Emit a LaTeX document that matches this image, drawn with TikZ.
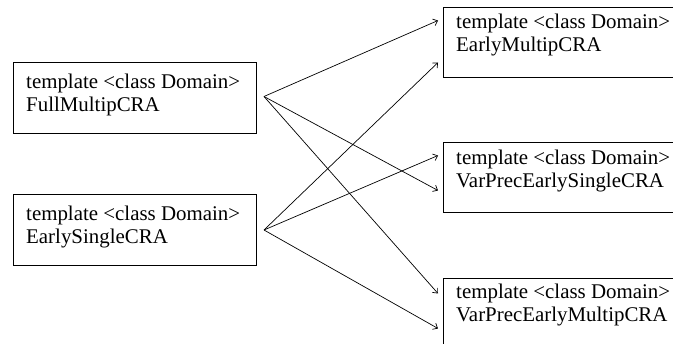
\documentclass[tikz,border=0pt]{standalone}
\usepackage{fontspec}
\setmainfont{Liberation Serif}
\usetikzlibrary{arrows.meta}
\tikzset{
  x=1pt, y=-1pt,
  classbox/.style={draw=black, line width=1pt, inner sep=0pt, anchor=north west},
  leftbox/.style={classbox, minimum width=243pt, minimum height=71pt},
  rightbox/.style={classbox, minimum width=250pt, minimum height=70pt},
  boxtext/.style={anchor=north west, inner sep=0pt, align=left,
    font=\fontsize{20.9}{23}\selectfont},
  derive/.style={draw=black, line width=0.7pt,
    -{Straight Barb[length=4pt,width=7pt,line width=0.7pt]}}
}
\begin{document}
\begin{tikzpicture}
  \useasboundingbox (0,0) rectangle (673,344);
  \fill[white] (0,0) rectangle (673,344);

  % base class templates
  \node[leftbox] (fm) at (13,62) {};
  \node[leftbox] (es) at (13,194) {};
  \node[boxtext] (fmtext) at ([shift={(13pt,-12pt)}]fm.north west)
    {template <class Domain>\\FullMultipCRA};
  \node[boxtext] (estext) at ([shift={(13pt,-12pt)}]es.north west)
    {template <class Domain>\\EarlySingleCRA};

  % derived class templates
  \node[rightbox] (em) at (443,7) {};
  \node[rightbox] (vs) at (443,142) {};
  \node[rightbox] (vm) at (443,278) {};
  \node[boxtext] (emtext) at ([shift={(13pt,-7pt)}]em.north west)
    {template <class Domain>\\EarlyMultipCRA};
  \node[boxtext] (vstext) at ([shift={(13pt,-8pt)}]vs.north west)
    {template <class Domain>\\VarPrecEarlySingleCRA};
  \node[boxtext] (vmtext) at ([shift={(13pt,-6pt)}]vm.north west)
    {template <class Domain>\\VarPrecEarlyMultipCRA};

  % connector end points
  \coordinate (fmout) at ([xshift=7pt,yshift=1.5pt]fm.east);
  \coordinate (esout) at ([xshift=7pt]es.east);
  \coordinate (emin1) at ([xshift=-5pt,yshift=22pt]em.west);
  \coordinate (emin2) at ([xshift=-5pt,yshift=-20pt]em.west);
  \coordinate (vsin1) at ([xshift=-5pt,yshift=22pt]vs.west);
  \coordinate (vsin2) at ([xshift=-5pt,yshift=-13pt]vs.west);
  \coordinate (vmin1) at ([xshift=-5pt,yshift=20pt]vm.west);
  \coordinate (vmin2) at ([xshift=-5pt,yshift=-15pt]vm.west);

  % inheritance arrows
  \draw[derive] (fmout) -- (emin1);
  \draw[derive] (fmout) -- (vsin2);
  \draw[derive] (fmout) -- (vmin1);
  \draw[derive] (esout) -- (emin2);
  \draw[derive] (esout) -- (vsin1);
  \draw[derive] (esout) -- (vmin2);
\end{tikzpicture}
\end{document}
